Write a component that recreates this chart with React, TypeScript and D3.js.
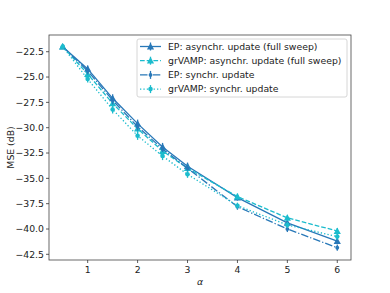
import React from "react";
import * as d3 from "d3";

const alphas = [0.5, 1, 1.5, 2, 2.5, 3, 4, 5, 6];
const epAsync = [-22, -24.2, -27.1, -29.6, -31.9, -33.8, -36.9, -39.4, -41.2];
const grAsync = [-22, -24.7, -27.6, -30.1, -32.3, -34.0, -36.8, -38.9, -40.2];
const epSync = [-22, -24.4, -27.3, -29.9, -32.1, -34.0, -37.8, -40.0, -41.85];
const grSync = [-22, -25.2, -28.2, -30.8, -32.8, -34.6, -37.7, -39.6, -40.75];
const errHalf = [0.1, 0.35, 0.4, 0.4, 0.4, 0.35, 0.3, 0.3, 0.3];
const labels = [
  "EP: asynchr. update (full sweep)",
  "grVAMP: asynchr. update (full sweep)",
  "EP: synchr. update",
  "grVAMP: synchr. update",
];
const xTicks = [1, 2, 3, 4, 5, 6];
const yTicks = [-22.5, -25, -27.5, -30, -32.5, -35, -37.5, -40, -42.5];

const BLUE = "#2878b8";
const CYAN = "#1bbccd";

const series = [
  { values: epAsync, color: BLUE, dash: "", marker: "tri" },
  { values: grAsync, color: CYAN, dash: "4.7,2", marker: "tri" },
  { values: epSync, color: BLUE, dash: "7.5,2,1.3,2", marker: "dot" },
  { values: grSync, color: CYAN, dash: "1.3,2.1", marker: "sq" },
];

function Marker({ x, y, type, color }: { x: number; y: number; type: string; color: string }) {
  if (type === "tri") {
    const s = 3.6;
    return (
      <path
        d={`M${x},${y - s}L${x + s},${y + s * 0.8}L${x - s},${y + s * 0.8}Z`}
        fill={color}
      />
    );
  }
  if (type === "sq") return <circle cx={x} cy={y} r={2.3} fill={color} />;
  return <circle cx={x} cy={y} r={1.9} fill={color} />;
}

export default function App() {
  const W = 390, H = 293;
  const L = 49, R = 351, T = 35, B = 260;
  const x = d3.scaleLinear().domain([0.225, 6.275]).range([L, R]);
  const y = d3.scaleLinear().domain([-43.06, -20.85]).range([B, T]);
  const font = "DejaVu Sans";
  const fs = 9.3;
  const fmt = (v: number) => d3.format(".1f")(v).replace("-", "\u2212");
  const legX = 137, legY = 39, legW = 210, legH = 58;
  const rowY = [46.5, 60.7, 74.9, 89.1];

  return (
    <svg width={W} height={H} style={{ position: "absolute", left: 0, top: 0 }} fontFamily={font}>
      <rect width={W} height={H} fill="white" />
      {series.map((s, i) => {
        const line = d3
          .line<number>()
          .x((_, j) => x(alphas[j]))
          .y((v) => y(v));
        return (
          <g key={i}>
            <path d={line(s.values) || ""} fill="none" stroke={s.color} strokeWidth={1.3} strokeDasharray={s.dash} />
            {s.values.map((v, j) => (
              <g key={j}>
                <line
                  x1={x(alphas[j])}
                  x2={x(alphas[j])}
                  y1={y(v - errHalf[j])}
                  y2={y(v + errHalf[j])}
                  stroke={s.color}
                  strokeWidth={1.3}
                />
                <Marker x={x(alphas[j])} y={y(v)} type={s.marker} color={s.color} />
              </g>
            ))}
          </g>
        );
      })}
      <rect x={L} y={T} width={R - L} height={B - T} fill="none" stroke="#444" strokeWidth={0.8} />
      {xTicks.map((t) => (
        <g key={t}>
          <line x1={x(t)} x2={x(t)} y1={B} y2={B + 3} stroke="#333" strokeWidth={0.8} />
          <text x={x(t)} y={B + 13} fontSize={fs} textAnchor="middle" fill="#222">
            {t}
          </text>
        </g>
      ))}
      {yTicks.map((t) => (
        <g key={t}>
          <line x1={L - 3} x2={L} y1={y(t)} y2={y(t)} stroke="#333" strokeWidth={0.8} />
          <text x={L - 5} y={y(t) + 3.3} fontSize={fs} textAnchor="end" fill="#222">
            {fmt(t)}
          </text>
        </g>
      ))}
      <text x={200} y={285} fontSize={fs} textAnchor="middle" fontStyle="italic" fill="#222">
        α
      </text>
      <text
        transform={`translate(14,${(T + B) / 2}) rotate(-90)`}
        fontSize={fs}
        textAnchor="middle"
        fill="#222"
      >
        MSE (dB)
      </text>
      <rect x={legX} y={legY} width={legW} height={legH} rx={2} fill="white" fillOpacity={0.8} stroke="#ccc" strokeWidth={0.8} />
      {series.map((s, i) => (
        <g key={i}>
          <line x1={140} x2={161} y1={rowY[i]} y2={rowY[i]} stroke={s.color} strokeWidth={1.3} strokeDasharray={s.dash} />
          <line x1={150.5} x2={150.5} y1={rowY[i] - 4} y2={rowY[i] + 4} stroke={s.color} strokeWidth={1.3} />
          <Marker x={150.5} y={rowY[i]} type={s.marker} color={s.color} />
          <text x={168} y={rowY[i] + 3.3} fontSize={fs} fill="#222">
            {labels[i]}
          </text>
        </g>
      ))}
    </svg>
  );
}
